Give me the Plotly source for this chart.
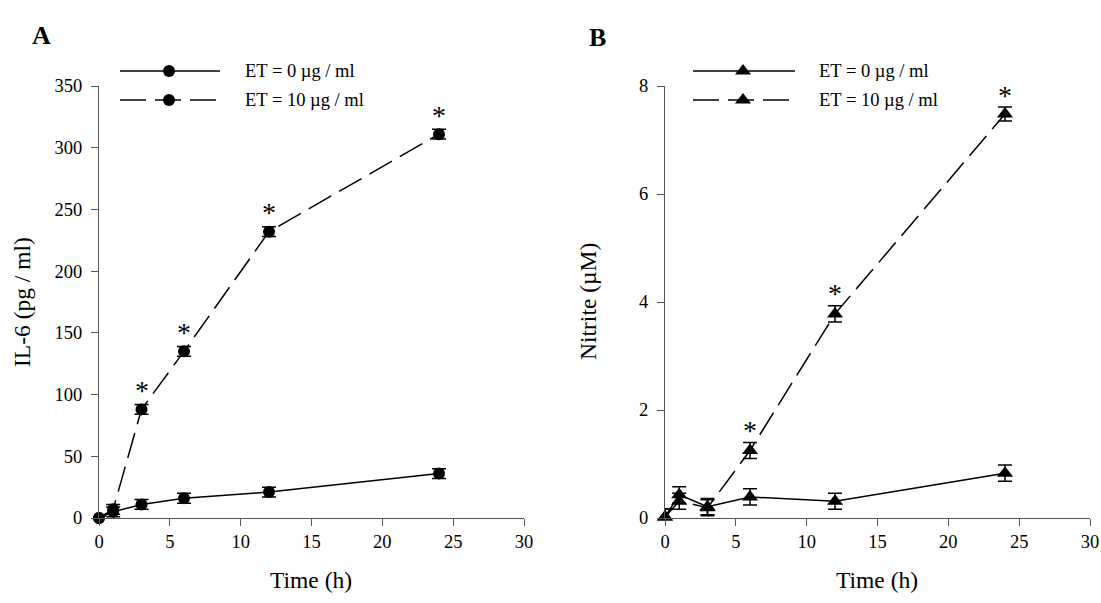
import plotly.graph_objects as go

# ---------------- data ----------------
time_h = [0, 1, 3, 6, 12, 24]

il6_et0 = [0, 5, 11, 16, 21, 36]
il6_et0_err = [2, 4, 4, 4, 4, 4]
il6_et10 = [0, 7, 88, 135, 232, 311]
il6_et10_err = [2, 4, 4, 4, 4, 4]
il6_sig = [False, False, True, True, True, True]

nitrite_et0 = [0.02, 0.43, 0.21, 0.39, 0.31, 0.83]
nitrite_et0_err = [0.15, 0.15, 0.15, 0.15, 0.15, 0.15]
nitrite_et10 = [0.02, 0.31, 0.19, 1.25, 3.78, 7.48]
nitrite_et10_err = [0.15, 0.15, 0.15, 0.15, 0.15, 0.13]
nitrite_sig = [False, False, False, True, True, True]

legend_labels = ["ET = 0 \u00b5g / ml", "ET = 10 \u00b5g / ml"]
x_ticks = [0, 5, 10, 15, 20, 25, 30]
il6_ticks = [0, 50, 100, 150, 200, 250, 300, 350]
nitrite_ticks = [0, 2, 4, 6, 8]

# ---------------- style ----------------
W, H = 1101, 603
FONT = "Liberation Serif, Times New Roman, serif"
AX = "#555555"
DASH = "26px,9px"

def px_x(p):
    return p / W

def px_y(p):
    return 1 - p / H

fig = go.Figure()

def add_series(x, y, err, dash, symbol, size, xa, ya):
    fig.add_trace(go.Scatter(
        x=x, y=y, mode="lines+markers",
        line=dict(color="black", width=1.5, dash=dash),
        marker=dict(symbol=symbol, size=size, color="black"),
        error_y=dict(type="data", array=err, visible=True, color="black",
                     thickness=1.5, width=7),
        cliponaxis=False, showlegend=False, xaxis=xa, yaxis=ya,
        hoverinfo="x+y",
    ))

add_series(time_h, il6_et0, il6_et0_err, "solid", "circle", 12, "x", "y")
add_series(time_h, il6_et10, il6_et10_err, DASH, "circle", 12, "x", "y")
add_series(time_h, nitrite_et0, nitrite_et0_err, "solid", "triangle-up", 14, "x2", "y2")
add_series(time_h, nitrite_et10, nitrite_et10_err, DASH, "triangle-up", 14, "x2", "y2")

annotations = []
# significance asterisks
for t, v, e, s in zip(time_h, il6_et10, il6_et10_err, il6_sig):
    if s:
        annotations.append(dict(x=t, y=v + e, xref="x", yref="y", text="*",
                                showarrow=False, yshift=14, xanchor="center",
                                yanchor="middle",
                                font=dict(family=FONT, size=28, color="black")))
for t, v, e, s in zip(time_h, nitrite_et10, nitrite_et10_err, nitrite_sig):
    if s:
        annotations.append(dict(x=t, y=v + e, xref="x2", yref="y2", text="*",
                                showarrow=False, yshift=12, xanchor="center",
                                yanchor="middle",
                                font=dict(family=FONT, size=28, color="black")))

# custom legends (drawn on an invisible full-figure pixel axis)
legend_cfg = [
    # (line x0, x1, marker x, text x, symbol, size)
    (120, 220, 169, 243, "circle", 12),
    (693, 795, 743, 817, "triangle-up", 14),
]
for (lx0, lx1, mx, tx, sym, sz) in legend_cfg:
    for i, (ly, dash) in enumerate([(71, "solid"), (100, DASH)]):
        fig.add_trace(go.Scatter(
            x=[lx0, lx1], y=[ly, ly], mode="lines",
            line=dict(color="black", width=1.5, dash=dash),
            xaxis="x3", yaxis="y3", showlegend=False, hoverinfo="skip"))
        fig.add_trace(go.Scatter(
            x=[mx], y=[ly], mode="markers",
            marker=dict(symbol=sym, size=sz, color="black"),
            xaxis="x3", yaxis="y3", showlegend=False, hoverinfo="skip"))
        annotations.append(dict(x=px_x(tx), y=px_y(ly), xref="paper", yref="paper",
                                xanchor="left", yanchor="middle", text=legend_labels[i],
                                showarrow=False,
                                font=dict(family=FONT, size=18.5, color="black")))

# panel letters
annotations.append(dict(x=px_x(30), y=px_y(36), xref="paper", yref="paper",
                        xanchor="left", yanchor="middle", text="<b>A</b>", showarrow=False,
                        font=dict(family=FONT, size=26, color="black")))
annotations.append(dict(x=px_x(587), y=px_y(37), xref="paper", yref="paper",
                        xanchor="left", yanchor="middle", text="<b>B</b>", showarrow=False,
                        font=dict(family=FONT, size=26, color="black")))

# axis titles
TITLE_FONT = dict(family=FONT, size=23.5, color="black")
for tx, ty, txt, ang in [(311, 580, "Time (h)", 0),
                         (877, 580, "Time (h)", 0),
                         (22, 302, "IL-6 (pg / ml)", -90),
                         (588, 302, "Nitrite (\u00b5M)", -90)]:
    annotations.append(dict(x=px_x(tx), y=px_y(ty), xref="paper", yref="paper",
                            xanchor="center", yanchor="middle", text=txt,
                            textangle=ang, showarrow=False, font=TITLE_FONT))

axis_common = dict(showline=True, linecolor=AX, linewidth=1, ticks="outside",
                   ticklen=7, tickcolor=AX, tickwidth=1, showgrid=False,
                   zeroline=False, mirror=False, fixedrange=True, automargin=False,
                   tickfont=dict(family=FONT, size=18.5, color="black"))

fig.update_layout(
    template="none",
    width=W, height=H,
    margin=dict(l=0, r=0, t=0, b=0, pad=0),
    paper_bgcolor="white", plot_bgcolor="rgba(0,0,0,0)",
    showlegend=False,
    xaxis=dict(domain=[px_x(99), px_x(524)], range=[0, 30], tickvals=x_ticks,
               anchor="y", **axis_common),
    yaxis=dict(domain=[px_y(518), px_y(86)], range=[0, 350], tickvals=il6_ticks,
               anchor="x", ticklabelstandoff=5, **axis_common),
    xaxis2=dict(domain=[px_x(665), px_x(1090)], range=[0, 30], tickvals=x_ticks,
                anchor="y2", **axis_common),
    yaxis2=dict(domain=[px_y(518), px_y(86)], range=[0, 8], tickvals=nitrite_ticks,
                anchor="x2", ticklabelstandoff=5, **axis_common),
    xaxis3=dict(domain=[0, 1], range=[0, W], visible=False, fixedrange=True,
                automargin=False, anchor="y3"),
    yaxis3=dict(domain=[0, 1], range=[H, 0], visible=False, fixedrange=True,
                automargin=False, anchor="x3"),
    annotations=annotations,
    font=dict(family=FONT, color="black"),
)

fig.write_html("out.html")
